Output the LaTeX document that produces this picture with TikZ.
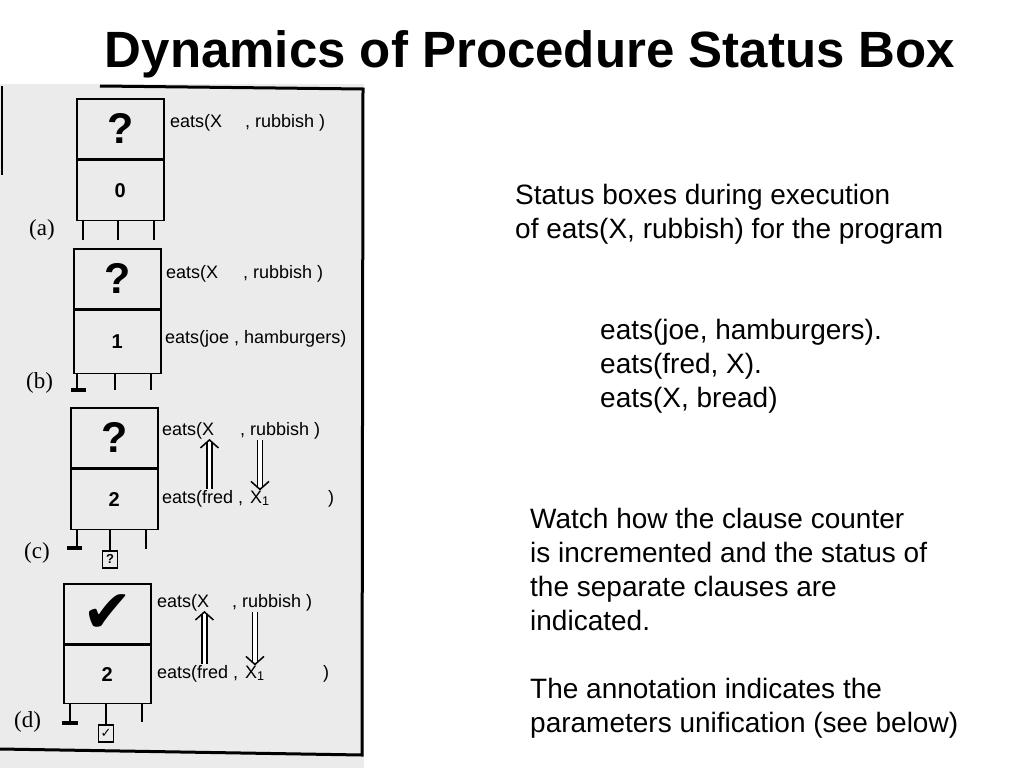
\documentclass[tikz,border=0pt]{standalone}
\usepackage{fontspec}
\setmainfont{Liberation Sans}
\newfontfamily\panelfont{Liberation Serif}
\newfontfamily\tickfont{DejaVu Sans}
\usetikzlibrary{arrows.meta,positioning}

\begin{document}
\begin{tikzpicture}[
  x=1pt, y=-1pt,
  half/.style={draw, line width=1.6pt, minimum width=87pt, minimum height=60pt, inner sep=0pt},
  status/.style={half, font=\bfseries\fontsize{43}{48}\selectfont},
  counter/.style={half, font=\bfseries\fontsize{20}{24}\selectfont},
  goal/.style={anchor=base west, inner sep=0pt, font=\fontsize{18}{22}\selectfont},
  panel/.style={anchor=base west, inner sep=0pt, font=\panelfont\fontsize{23}{26}\selectfont},
  leg/.style={line width=1.6pt},
  cut/.style={line width=3.5pt},
  tag/.style={draw, line width=1.3pt, minimum width=15pt, minimum height=17pt, inner sep=0pt,
    font=\bfseries\fontsize{13}{15}\selectfont},
  shaft/.style={double, double distance=3.5pt, line width=1.5pt, shorten <=1pt, shorten >=3pt},
  head/.style={line width=1.5pt, -{Straight Barb[length=8pt, width=18pt]}},
  prose/.style={anchor=base west, align=left, inner sep=0pt, font=\fontsize{28}{34}\selectfont}
]
\useasboundingbox (0,0) rectangle (1024,768);

% the scanned panel
\fill[black!8] (0,84) rectangle (364,768);
\draw[line width=3pt] (100,86) -- (363,89) -- (362,755) -- (0,749);
\draw[line width=2pt] (2,86) -- (2,175);

\node[anchor=base, font=\bfseries\fontsize{51}{61}\selectfont] (title) at (530,67) {Dynamics of Procedure Status Box};

% (a)
\node[status, anchor=north west] (qa) at (76,98) {?};
\node[counter, below=0pt of qa] (na) {0};
\draw[leg] ([xshift=7pt]na.south west) -- ++(0,19) coordinate (a1);
\draw[leg] ([xshift=42pt]na.south west) -- ++(0,19) coordinate (a2);
\draw[leg] ([xshift=78pt]na.south west) -- ++(0,19) coordinate (a3);
\node[panel] (pa) at (29,235) {(a)};
\node[goal] (xa) at (170,127) {eats(X};
\node[goal] (ra) at (245,127) {, rubbish )};

% (b)
\node[status, anchor=north west] (qb) at (73,248) {?};
\node[counter, below=0pt of qb, minimum height=63pt] (nb) {1};
\draw[leg] ([xshift=4pt]nb.south west) -- ++(0,16) coordinate (b1);
\draw[leg] ([xshift=42pt]nb.south west) -- ++(0,16) coordinate (b2);
\draw[leg] ([xshift=78pt]nb.south west) -- ++(0,16) coordinate (b3);
\draw[cut] ([xshift=-6pt]b1) -- ([xshift=9pt]b1);
\node[panel] (pb) at (26,388) {(b)};
\node[goal] (xb) at (166,278) {eats(X};
\node[goal] (rb) at (243,278) {, rubbish )};
\node[goal] (jb) at (165,343) {eats(joe , hamburgers)};

% (c)
\node[status, anchor=north west] (qc) at (70,407) {?};
\node[counter, below=0pt of qc] (nc) {2};
\draw[leg] ([xshift=7pt]nc.south west) -- ++(0,18) coordinate (c1);
\draw[leg] ([xshift=40pt]nc.south west) -- ++(0,20) coordinate (c2);
\draw[leg] ([xshift=76pt]nc.south west) -- ++(0,19) coordinate (c3);
\draw[cut] ([xshift=-10pt]c1) -- ([xshift=5pt]c1);
\node[tag, below=0pt of c2] (tc) {?};
\node[panel] (pc) at (24,558) {(c)};
\node[goal] (xc) at (162,435) {eats(X};
\node[goal] (rc) at (240,435) {, rubbish )};
\node[goal] (fc) at (162,503) {eats(fred ,};
\node[goal] (vc) at (250,503) {X\textsubscript{1}};
\node[goal] (ec) at (328,503) {)};
\coordinate (uc) at ([xshift=-5pt]xc.south east);
\draw[shaft] (uc |- fc.north) -- (uc);
\draw[head] ([yshift=-1pt]uc) -- (uc);
\draw[shaft] (rc.south -| vc.north) -- (vc.north);
\draw[head] ([yshift=1pt]vc.north) -- (vc.north);

% (d)
\node[status, anchor=north west] (qd) at (63,583) {\tickfont\fontsize{60}{64}\selectfont ✔};
\node[counter, below=0pt of qd, minimum height=58pt] (nd) {2};
\draw[leg] ([xshift=7pt]nd.south west) -- ++(0,19) coordinate (d1);
\draw[leg] ([xshift=43pt]nd.south west) -- ++(0,20) coordinate (d2);
\draw[leg] ([xshift=79pt]nd.south west) -- ++(0,18) coordinate (d3);
\draw[cut] ([xshift=-8pt]d1) -- ([xshift=8pt]d1);
\node[tag, below=0pt of d2] (td) {\tickfont ✓};
\node[panel] (pd) at (14,727) {(d)};
\node[goal] (xd) at (157,607) {eats(X};
\node[goal] (rd) at (232,607) {, rubbish )};
\node[goal] (fd) at (157,678) {eats(fred ,};
\node[goal] (vd) at (245,678) {X\textsubscript{1}};
\node[goal] (ed) at (323,678) {)};
\coordinate (ud) at ([xshift=-5pt]xd.south east);
\draw[shaft] (ud |- fd.north) -- (ud);
\draw[head] ([yshift=-1pt]ud) -- (ud);
\draw[shaft] (rd.south -| vd.north) -- (vd.north);
\draw[head] ([yshift=1pt]vd.north) -- (vd.north);

% explanation
\node[prose] (intro) at (515,238) {Status boxes during execution\\of eats(X, rubbish) for the program};
\node[prose] (prog) at (600,407) {eats(joe, hamburgers).\\eats(fred, X).\\eats(X, bread)};
\node[prose] (note) at (530,732) {Watch how the clause counter\\is incremented and the status of\\the separate clauses are\\indicated.\\[34pt]The annotation indicates the\\parameters unification (see below)};
\end{tikzpicture}
\end{document}
